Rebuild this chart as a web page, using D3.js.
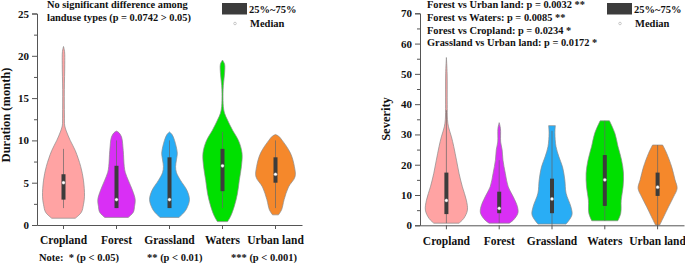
<!DOCTYPE html>
<html>
<head>
<meta charset="utf-8">
<script src="https://cdn.jsdelivr.net/npm/d3@7"></script>
<style>
  body { margin: 0; background: #fff; }
  svg text { font-family: "Liberation Serif", "Times New Roman", serif; font-weight: bold; fill: #111; }
</style>
</head>
<body>
<div id="chart"></div>
<script>
// categories and colours
const categories = ["Cropland", "Forest", "Grassland", "Waters", "Urban land"];
const colors = ["#ffa3a3", "#d92ff5", "#29adf5", "#00e000", "#f5882b"];

// violin outlines: [value, relative half width]
const durationViolins = [
  [[0.8,0.56],[1.5,0.85],[2.4,0.95],[3.4,1.0],[5.3,0.95],[6.9,0.82],[8.8,0.56],[10,0.32],[11,0.15],[11.7,0.06],[13,0.045],[16,0.04],[19,0.06],[20.5,0.05],[21.1,0]],
  [[0.9,0.56],[1.5,0.8],[2.2,0.86],[3,0.89],[4.1,0.76],[5.3,0.56],[6.2,0.42],[6.9,0.37],[8.8,0.32],[10.4,0.24],[10.9,0.12],[11.1,0]],
  [[0.9,0.45],[1.5,0.7],[2,0.83],[3,0.95],[4.1,0.83],[5.3,0.52],[6.2,0.33],[6.9,0.29],[7.7,0.33],[8.5,0.37],[10,0.24],[10.7,0.12],[11,0]],
  [[0.4,0.24],[1,0.38],[2.2,0.56],[3.7,0.71],[5.3,0.8],[6.9,0.9],[8.5,0.93],[10,0.76],[11.2,0.48],[12.4,0.24],[13.2,0.1],[14,0.04],[15.5,0.025],[16.5,0.04],[18,0.1],[19,0.1],[19.5,0]],
  [[1.2,0.14],[1.8,0.29],[3,0.41],[4.5,0.62],[5.7,0.93],[6.9,0.9],[8.5,0.71],[10,0.32],[10.5,0.15],[10.7,0]]
];
const severityViolins = [
  [[0.7,0.6],[2.3,0.83],[5,1.0],[8.3,0.95],[12.7,0.76],[17.2,0.6],[21.5,0.48],[26,0.35],[29.2,0.24],[32.5,0.1],[35,0.05],[40,0.04],[50,0.035],[55.4,0]],
  [[0.7,0.48],[1.7,0.67],[4,0.89],[6.1,0.87],[9.4,0.67],[12.7,0.43],[17.2,0.29],[21.5,0.18],[24.9,0.14],[27.5,0.07],[32,0.06],[33.9,0]],
  [[0.4,0.67],[3.4,0.95],[6.1,0.9],[10.6,0.67],[15,0.61],[19.3,0.5],[22.6,0.33],[26,0.19],[30.4,0.14],[32.9,0.16]],
  [[1.5,0.62],[4,0.76],[8.3,0.78],[12.7,0.87],[17.2,0.89],[21.5,0.8],[26,0.63],[30.4,0.48],[34.5,0.22]],
  [[0.1,0.1],[2.8,0.29],[6.1,0.52],[9.4,0.76],[12.2,0.93],[15,0.83],[19.3,0.67],[23.8,0.43],[26.5,0.24]]
];

// box stats
const durationQ1 = [3, 2, 2, 4, 5];
const durationQ3 = [6, 7, 8, 9, 8];
const durationMedian = [5, 3, 3, 7, 6];
const durationLow = [2, 2, 2, 2, 2];
const durationHigh = [9, 10, 10, 11, 10];

const severityQ1 = [3.7, 4, 4, 6.4, 9.7];
const severityQ3 = [17.4, 11.1, 15.4, 23.2, 17.4];
const severityMedian = [8.2, 5.6, 8.7, 15, 12.6];
const severityLow = [0.7, 0.7, 0, 1.5, 0];
const severityHigh = [38, 21.5, 31.2, 34.5, 26.5];

// ticks
const durationTicks = [0, 5, 10, 15, 20, 25];
const durationMinor = [2.5, 7.5, 12.5, 17.5, 22.5];
const severityTicks = [0, 10, 20, 30, 40, 50, 60, 70];
const severityMinor = [5, 15, 25, 35, 45, 55, 65];

const durationNotes = ["No significant difference among", "landuse types (p = 0.0742 > 0.05)"];
const severityNotes = [
  "Forest vs Urban land: p = 0.0032 **",
  "Forest vs Waters: p = 0.0085 **",
  "Forest vs Cropland: p = 0.0234 *",
  "Grassland vs Urban land: p = 0.0172 *"
];
const footNotes = [["Note:  * (p < 0.05)", 39], ["** (p < 0.01)", 147], ["*** (p < 0.001)", 231]];

const W = 685, H = 265;
const svg = d3.select("#chart").append("svg").attr("width", W).attr("height", H);
const axisColor = "#555";

function drawPanel(opt) {
  const g = svg.append("g");
  const x = d3.scaleBand().domain(categories).range([opt.x0, opt.x1]).padding(0);
  const y = d3.scaleLinear().domain([0, opt.max]).range([opt.yBottom, opt.yTop]);
  const w = d3.scaleLinear().domain([0, 1]).range([0, 21]);

  // violins
  categories.forEach((c, i) => {
    const cx = x(c) + x.bandwidth() / 2;
    const area = d3.area()
      .y(d => y(d[0]))
      .x0(d => cx - w(d[1]))
      .x1(d => cx + w(d[1]))
      .curve(d3.curveCatmullRom.alpha(0.5));
    g.append("path")
      .attr("d", area(opt.violins[i]))
      .attr("fill", colors[i])
      .attr("stroke", "#8a8a8a")
      .attr("stroke-width", 0.7);
    // whisker
    g.append("line")
      .attr("x1", cx).attr("x2", cx)
      .attr("y1", y(opt.low[i])).attr("y2", y(opt.high[i]))
      .attr("stroke", "#666").attr("stroke-width", 0.7);
    // box
    g.append("rect")
      .attr("x", cx - 2).attr("width", 4)
      .attr("y", y(opt.q3[i]))
      .attr("height", y(opt.q1[i]) - y(opt.q3[i]))
      .attr("fill", "#3c3c3c");
    g.append("circle")
      .attr("cx", cx).attr("cy", y(opt.median[i])).attr("r", 1.6)
      .attr("fill", "#fff").attr("stroke", "#999").attr("stroke-width", 0.4);
  });

  // y axis
  const yAxis = g.append("g").attr("transform", `translate(${opt.x0},0)`)
    .call(d3.axisLeft(y).tickValues(opt.ticks).tickSize(5).tickPadding(3).tickFormat(d3.format("d")));
  g.append("g").attr("transform", `translate(${opt.x0},0)`)
    .call(d3.axisLeft(y).tickValues(opt.minor).tickSize(3).tickFormat(""))
    .call(a => a.select(".domain").remove());
  // x axis
  const xAxis = g.append("g").attr("transform", `translate(0,${opt.yBottom})`)
    .call(d3.axisBottom(x).tickSize(4).tickPadding(5).tickSizeOuter(0));
  g.selectAll(".domain, .tick line").attr("stroke", axisColor);
  yAxis.selectAll("text").style("font-size", "11px").style("font-family", "Liberation Serif").style("font-weight", "bold");
  xAxis.selectAll("text").style("font-size", "11.5px").style("font-family", "Liberation Serif").style("font-weight", "bold").attr("dy", "0.9em");

  // axis title
  g.append("text")
    .attr("transform", `translate(${opt.titleX},${opt.titleY}) rotate(-90)`)
    .attr("text-anchor", "middle")
    .style("font-size", "12.5px")
    .text(opt.title);

  // legend
  g.append("rect").attr("x", opt.legX).attr("y", 3).attr("width", 25).attr("height", 11.5).attr("fill", "#3c3c3c");
  g.append("text").attr("x", opt.legX + 27).attr("y", 12.5).style("font-size", "10.5px").text("25%~75%");
  g.append("circle").attr("cx", opt.legX + 13).attr("cy", 23.5).attr("r", 1.3)
    .attr("fill", "#fff").attr("stroke", "#999").attr("stroke-width", 0.5);
  g.append("text").attr("x", opt.legX + 28).attr("y", 27).style("font-size", "10.5px").text("Median");

  // notes, sized so the first line spans the width seen in the picture
  const notes = g.selectAll(".note").data(opt.notes).enter().append("text")
    .attr("x", opt.noteX)
    .attr("y", (d, i) => opt.noteY + i * opt.noteStep)
    .style("font-size", "10.5px")
    .text(d => d);
  const len = notes.node().getComputedTextLength();
  if (len > 0) notes.style("font-size", (10.5 * opt.noteWidth / len) + "px");
}

drawPanel({
  x0: 37, x1: 302, yBottom: 225, yTop: 13.5, max: 25,
  violins: durationViolins, q1: durationQ1, q3: durationQ3, median: durationMedian,
  low: durationLow, high: durationHigh,
  ticks: durationTicks, minor: durationMinor,
  title: "Duration (month)", titleX: 10, titleY: 115,
  legX: 222, notes: durationNotes, noteX: 47, noteY: 7.5, noteStep: 13, noteWidth: 141
});

drawPanel({
  x0: 420, x1: 684, yBottom: 225.3, yTop: 13.3, max: 70,
  violins: severityViolins, q1: severityQ1, q3: severityQ3, median: severityMedian,
  low: severityLow, high: severityHigh,
  ticks: severityTicks, minor: severityMinor,
  title: "Severity", titleX: 390, titleY: 119,
  legX: 607, notes: severityNotes, noteX: 427, noteY: 8, noteStep: 12.8, noteWidth: 158
});

svg.selectAll(".foot").data(footNotes).enter().append("text")
  .attr("x", d => d[1]).attr("y", 261)
  .style("font-size", "10.5px")
  .attr("xml:space", "preserve")
  .text(d => d[0]);
</script>
</body>
</html>
